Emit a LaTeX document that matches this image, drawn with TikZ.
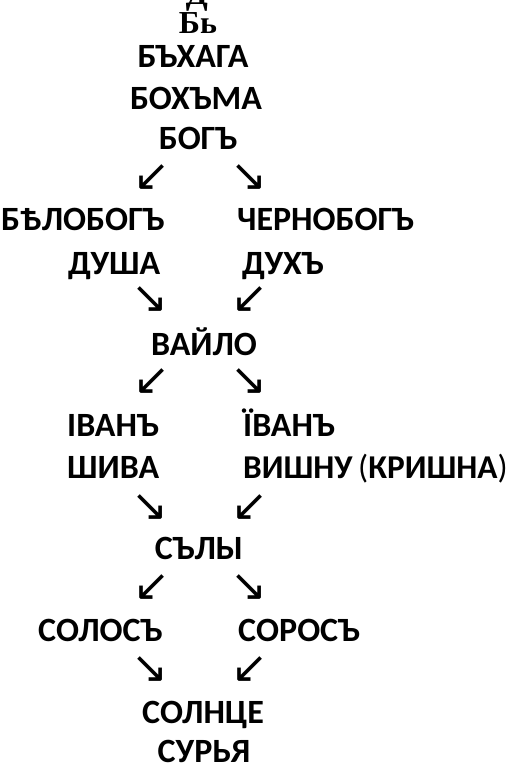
\documentclass[tikz,border=0pt]{standalone}
\usepackage{fontspec}
\setmainfont{Carlito}
\newfontfamily\oldserif{Liberation Serif}
\newfontfamily\arrowfont{DejaVu Sans}

\begin{document}
\begin{tikzpicture}[x=1pt,y=-1pt,
  word/.style={font=\fontsize{34}{34}\selectfont\bfseries,inner sep=0pt},
  arr/.style={font=\arrowfont\fontsize{44}{44}\selectfont,inner sep=0pt}]
\useasboundingbox (0,0) rectangle (510,764);

% top, cut off by the page edge
\node[font=\oldserif\fontsize{32}{32}\selectfont\bfseries,inner sep=0pt,anchor=base] (cut) at (197,4) {Д};
\node[font=\oldserif\fontsize{32}{32}\selectfont\bfseries,inner sep=0pt,anchor=base] (be) at (198,33) {Бь};

\node[word,anchor=base] (bukhaga) at (193,67) {БЪХАГА};
\node[word,anchor=base] (bokhma) at (196,109) {БОХЪМА};
\node[word,anchor=base] (bog) at (198,149) {БОГЪ};
\node[arr] (a1) at (152,178) {↙};
\node[arr] (a2) at (249,178) {↘};

\node[word,anchor=base west] (belobog) at (1,230) {БѢЛОБОГЪ};
\node[word,anchor=base west] (chernobog) at (237,230) {ЧЕРНОБОГЪ};
\node[word,anchor=base west] (dusha) at (68,274) {ДУША};
\node[word,anchor=base west] (dukh) at (242,274) {ДУХЪ};
\node[arr] (a3) at (150,300) {↘};
\node[arr] (a4) at (250,300) {↙};

\node[word,anchor=base] (vajlo) at (204,355) {ВАЙЛО};
\node[arr] (a5) at (152,382) {↙};
\node[arr] (a6) at (249,382) {↘};

\node[word,anchor=base west] (ivan1) at (67,436) {ІВАНЪ};
\node[word,anchor=base west] (ivan2) at (243,436) {ЇВАНЪ};
\node[word,anchor=base west] (shiva) at (67,478) {ШИВА};
\node[word,anchor=base west,font=\fontsize{33.3}{34}\selectfont\bfseries] (vishnu) at (243,478) {ВИШНУ\,\textmd{(}КРИШНА\textmd{)}};
\node[arr] (a7) at (150,508) {↘};
\node[arr] (a8) at (250,508) {↙};

\node[word,anchor=base] (sly) at (199,559) {СЪЛЫ};
\node[arr] (a9) at (152,588) {↙};
\node[arr] (a10) at (249,588) {↘};

\node[word,anchor=base west] (solos) at (38,641) {СОЛОСЪ};
\node[word,anchor=base west] (soros) at (238,641) {СОРОСЪ};
\node[arr] (a11) at (150,670) {↘};
\node[arr] (a12) at (250,670) {↙};

\node[word,anchor=base] (solnce) at (203,723) {СОЛНЦЕ};
\node[word,anchor=base] (surya) at (204,762) {СУРЬЯ};
\end{tikzpicture}
\end{document}
